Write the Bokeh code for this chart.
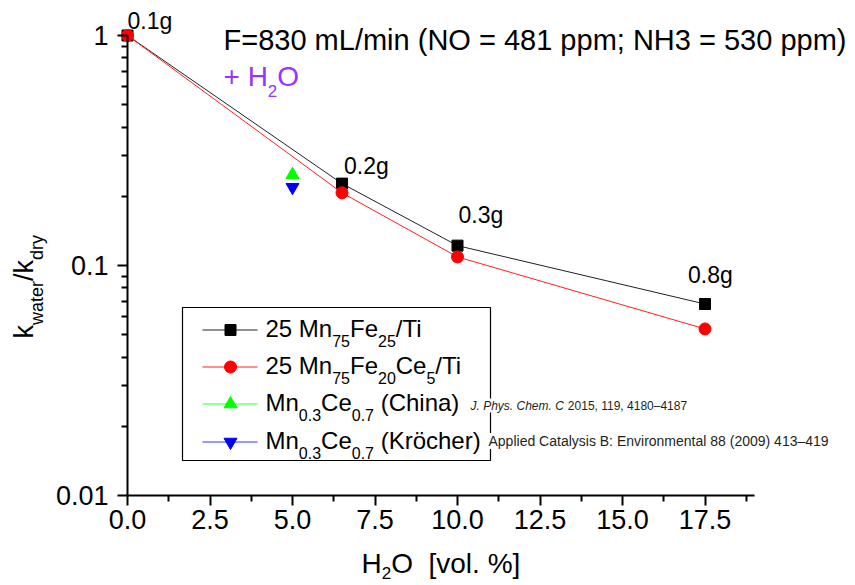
import math

from bokeh.plotting import figure
from bokeh.models import Label, BoxAnnotation, FixedTicker, PrintfTickFormatter
from bokeh.embed import file_html
from bokeh.resources import INLINE

# H2O content of the feed [vol. %] and relative rate constants k_water / k_dry
water = [0.0, 6.5, 10.0, 17.5]
k_mnfe = [1.0, 0.227, 0.122, 0.068]        # 25 Mn75Fe25/Ti
k_mnfece = [1.0, 0.207, 0.109, 0.053]      # 25 Mn75Fe20Ce5/Ti
catalyst_mass = ["0.1g", "0.2g", "0.3g", "0.8g"]

# literature values for Mn0.3Ce0.7
lit_water = [5.0]
k_china = [0.248]
k_krocher = [0.219]

x_ticks = [0.0, 2.5, 5.0, 7.5, 10.0, 12.5, 15.0, 17.5]
x_minor = [1.25, 3.75, 6.25, 8.75, 11.25, 13.75, 16.25, 18.75]
y_ticks = [0.01, 0.1, 1.0]
y_minor = [0.02, 0.03, 0.04, 0.05, 0.06, 0.07, 0.08, 0.09,
           0.2, 0.3, 0.4, 0.5, 0.6, 0.7, 0.8, 0.9]

FONT = "Liberation Sans"
NB = "\u00a0"

# The plotting frame fills the whole page; both axes sit at fixed data positions.
W, H = 855, 585
XPX0, PPU = 127.0, 33.0      # pixel of x = 0, pixels per vol. %
YPX1, DEC = 35.0, 230.0      # pixel of y = 1, pixels per decade
X0, X1 = -XPX0 / PPU, (W - XPX0) / PPU
Y0, Y1 = 10 ** (-(H - YPX1) / DEC), 10 ** (YPX1 / DEC)
BASE_FIX = 0.33              # lift of an "alphabetic" label, in em


def dx(px):
    """canvas x pixel -> data x"""
    return (px - XPX0) / PPU


def dy(py):
    """canvas y pixel -> data y (log axis)"""
    return 10 ** (-(py - YPX1) / DEC)


def px_of(x):
    return XPX0 + x * PPU


def py_of(y):
    return YPX1 - math.log10(y) * DEC


# Arial / Liberation Sans advance widths (1/1000 em) for laying out rich text
ADV = {" ": 278, NB: 278, "(": 333, ")": 333, "/": 278, ".": 278, ",": 278,
       ";": 278, ":": 278, "%": 889, "[": 278, "]": 278, "+": 584, "=": 584,
       "A": 667, "B": 667, "C": 722, "E": 667, "F": 611, "H": 722, "K": 667,
       "L": 556, "M": 833, "N": 722, "O": 778, "P": 667, "T": 611,
       "a": 556, "c": 500, "d": 556, "e": 556, "g": 556, "h": 556, "i": 222,
       "k": 500, "l": 222, "m": 833, "n": 556, "o": 556, "p": 556, "r": 333,
       "s": 500, "t": 278, "v": 500, "w": 722, "y": 500, "\u00f6": 556}


def text_width(s, size):
    return sum(ADV.get(c, 556) for c in s) * size / 1000.0


p = figure(width=W, height=H, x_range=(X0, X1), y_range=(Y0, Y1),
           y_axis_type="log", output_backend="svg", toolbar_location=None,
           min_border=0, min_border_left=0, min_border_right=0,
           min_border_top=0, min_border_bottom=0)
p.outline_line_color = None
p.grid.visible = False
p.background_fill_color = "white"
p.border_fill_color = "white"

for ax in (p.xaxis[0], p.yaxis[0]):
    ax.axis_line_width = 2
    ax.axis_line_color = "black"
    ax.major_tick_line_width = 2
    ax.minor_tick_line_width = 2
    ax.major_tick_in = 0
    ax.major_tick_out = 10
    ax.minor_tick_in = 0
    ax.minor_tick_out = 6
    ax.major_label_text_font = FONT
    ax.major_label_text_font_size = "27px"
    ax.major_label_text_color = "black"

xa = p.xaxis[0]
xa.ticker = FixedTicker(ticks=x_ticks, minor_ticks=x_minor)
xa.formatter = PrintfTickFormatter(format="%.1f")
xa.bounds = (0, 19)
xa.fixed_location = 0.01
xa.major_label_standoff = 4

ya = p.yaxis[0]
ya.ticker = FixedTicker(ticks=y_ticks, minor_ticks=y_minor)
ya.formatter = PrintfTickFormatter(format="%g")
ya.bounds = (0.01, 1)
ya.fixed_location = 0
ya.major_label_standoff = 9

# measured series
p.line(water, k_mnfe, line_color="#222222", line_width=1)
p.scatter(water, k_mnfe, marker="square", size=11, color="black")
p.line(water, k_mnfece, line_color="#ff2020", line_width=1)
p.scatter(water, k_mnfece, marker="circle", size=12, color="#ff0000")
p.scatter(lit_water, k_china, marker="triangle", size=13, color="#00ff00")
p.scatter(lit_water, k_krocher, marker="inverted_triangle", size=13, color="#0000ff")


def put(px, py, txt, size, color="black", style="normal", angle=0.0, **kw):
    """text whose baseline starts at canvas pixel (px, py)"""
    if angle:
        px -= BASE_FIX * size
    else:
        py -= BASE_FIX * size
    lab = Label(x=dx(px), y=dy(py), text=txt, text_font=FONT,
                text_font_size=f"{size}px", text_color=color,
                text_font_style=style, text_align="left",
                text_baseline="alphabetic", angle=angle, angle_units="deg", **kw)
    p.add_layout(lab)
    return lab


def rich(px, py, pieces, size, sub_size, shift, color="black"):
    """horizontal text with subscripts; pieces = [(text, is_sub), ...]"""
    cur = px
    for txt, sub in pieces:
        if sub:
            put(cur, py + shift, txt, sub_size, color)
            cur += text_width(txt, sub_size)
        else:
            put(cur, py, txt, size, color)
            cur += text_width(txt, size)
    return cur


def rich_vertical(px, py, pieces, size, sub_size, shift, color="black"):
    """text rotated by 90 degrees, reading upwards, with subscripts"""
    cur = py
    for txt, sub in pieces:
        if sub:
            put(px + shift, cur, txt, sub_size, color, angle=90)
            cur -= text_width(txt, sub_size)
        else:
            put(px, cur, txt, size, color, angle=90)
            cur -= text_width(txt, size)


# catalyst mass next to each point of the Mn75Fe25 series (pixel offsets right / up)
mass_offsets = [(0, 7), (2, 10), (1, 23), (-17, 21)]
for xv, yv, txt, (ox, oy) in zip(water, k_mnfe, catalyst_mass, mass_offsets):
    put(px_of(xv) + ox, py_of(yv) - oy, txt, 23)

# heading
put(223, 49, "F=830 mL/min (NO = 481 ppm; NH3 = 530 ppm)", 29)
rich(223, 85, [("+" + NB + "H", False), ("2", True), ("O", False)], 28, 17, 11,
     color="#9933ff")

# axis titles
rich(361, 572, [("H", False), ("2", True), ("O" + NB + NB + "[vol. %]", False)], 28, 17, 6)
rich_vertical(32, 338, [("k", False), ("water", True), ("/k", False), ("dry", True)],
              27, 18, 10)

# legend
p.add_layout(BoxAnnotation(left=dx(182), right=dx(490), top=dy(307), bottom=dy(460),
                           fill_color=None, line_color="black", line_alpha=1.0,
                           line_width=1.2))

legend_rows = [
    ([("25 Mn", False), ("75", True), ("Fe", False), ("25", True), ("/Ti", False)],
     "#222222", "square", 11, "black"),
    ([("25 Mn", False), ("75", True), ("Fe", False), ("20", True), ("Ce", False),
      ("5", True), ("/Ti", False)], "#ff2020", "circle", 12, "#ff0000"),
    ([("Mn", False), ("0.3", True), ("Ce", False), ("0.7", True),
      (NB + "(China)", False)], "#33ff33", "triangle", 13, "#00ff00"),
    ([("Mn", False), ("0.3", True), ("Ce", False), ("0.7", True),
      (NB + "(Kr\u00f6cher)", False)], "#3333ff", "inverted_triangle", 13, "#0000ff"),
]
baselines = [336, 373, 410, 448]
for (pieces, lcol, mk, msz, mcol), base in zip(legend_rows, baselines):
    cy = base - 6.5
    p.segment(x0=[dx(202)], y0=[dy(cy)], x1=[dx(257)], y1=[dy(cy)],
              line_color=lcol, line_width=1)
    p.scatter([dx(230)], [dy(cy)], marker=mk, size=msz, color=mcol)
    rich(265, base, pieces, 24, 16, 10)

# literature sources
cite1 = "J. Phys. Chem. C" + NB
put(470, 409, cite1, 12, color="#231f20", style="italic",
    background_fill_color="white")
put(470 + text_width(cite1, 12), 409, "2015, 119, 4180\u20134187", 12,
    color="#231f20", background_fill_color="white")
put(488, 445, "Applied Catalysis B: Environmental 88 (2009) 413\u2013419", 14,
    color="#231f20", background_fill_color="white")

open("out.html", "w").write(file_html(p, INLINE))
